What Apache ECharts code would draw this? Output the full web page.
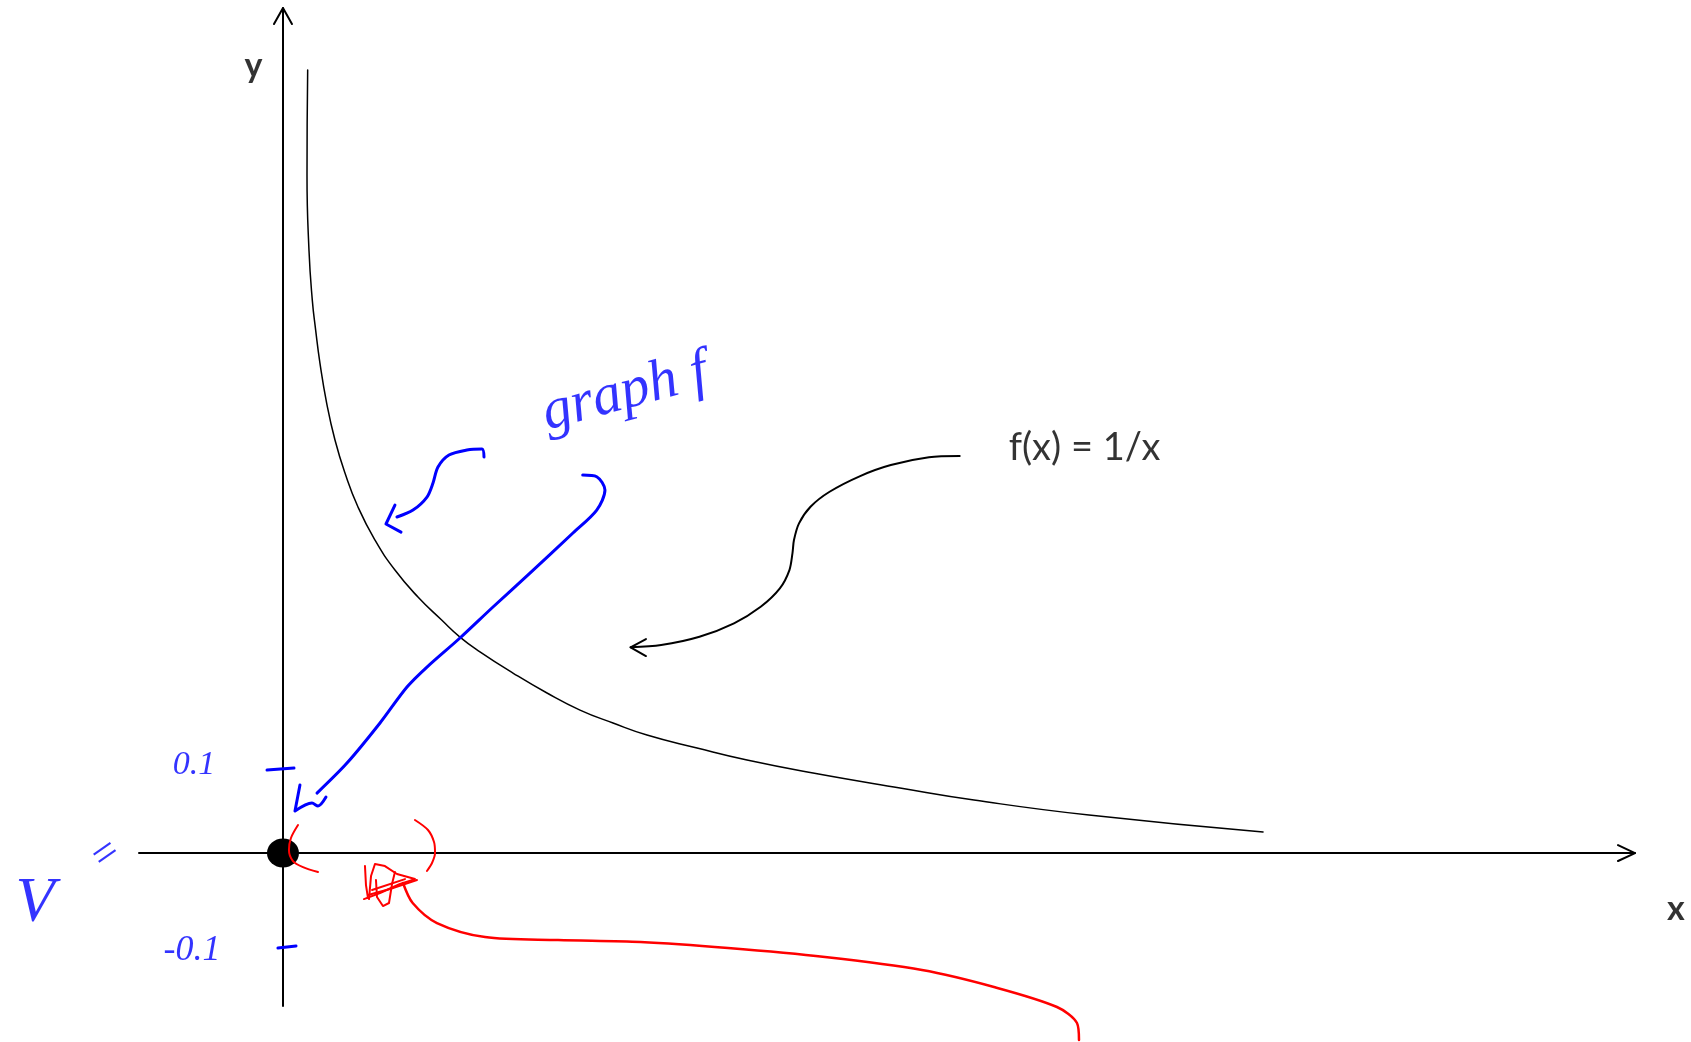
<!DOCTYPE html>
<html>
<head>
<meta charset="utf-8">
<title>f(x) = 1/x</title>
<script src="https://cdn.jsdelivr.net/npm/echarts@6/dist/echarts.min.js"></script>
<style>
    html, body { margin: 0; padding: 0; background: #fff; }
    #chart { width: 1691px; height: 1042px; }
</style>
</head>
<body>
<div id="chart"></div>
<script>
// units: the blue "0.1" tick sits at y = 0.1, same scale on both axes

// axis extents
const xRange = [-0.1714, 1.6095]
const yRange = [-0.1821, 1.006]

// f(x) = 1/x
const curve = [
    [0.0294, 0.9321], [0.0286, 0.8071], [0.031, 0.7167], [0.0349, 0.6583], [0.0389, 0.6226],
    [0.044, 0.5833], [0.052, 0.5357], [0.0619, 0.4917], [0.0738, 0.4524], [0.0893, 0.4119],
    [0.1095, 0.3726], [0.1333, 0.3369], [0.1607, 0.3048], [0.1889, 0.2774], [0.2107, 0.2571],
    [0.2345, 0.2396], [0.2738, 0.2143], [0.3143, 0.1905], [0.3536, 0.1702], [0.3929, 0.1548],
    [0.4333, 0.1405], [0.4929, 0.125], [0.5524, 0.1107], [0.631, 0.0952], [0.7345, 0.0774],
    [0.8226, 0.0631], [0.9595, 0.0452], [1.1667, 0.025],
]

// arrow heads of the axes
const xArrow = [[1.5893, 0.0095], [1.6095, 0], [1.5893, -0.0095]]
const yArrow = [[-0.0107, 0.9869], [0, 1.006], [0.0107, 0.9869]]

// black pointer from the f(x) label
const pointer = [
    [0.8056, 0.4726], [0.769, 0.4711], [0.7236, 0.4619], [0.6871, 0.4488], [0.6507, 0.4301],
    [0.628, 0.4123], [0.6143, 0.3925], [0.6083, 0.3726], [0.6065, 0.3568], [0.6029, 0.3369],
    [0.5915, 0.3151], [0.5687, 0.2932], [0.5369, 0.2735], [0.4958, 0.2575], [0.4502, 0.2476],
    [0.4138, 0.2449],
]
const pointerHead = [[0.4321, 0.2548], [0.4138, 0.2449], [0.4321, 0.2345]]

// blue ink
const hook = [
    [0.2393, 0.4714], [0.2369, 0.481], [0.219, 0.4798], [0.1976, 0.4738], [0.1845, 0.4595],
    [0.1786, 0.4405], [0.1714, 0.4238], [0.1548, 0.4083], [0.1357, 0.4],
]
const hookHead = [[0.1333, 0.4143], [0.1226, 0.3917], [0.1405, 0.3821]]
const longArrow = [
    [0.3568, 0.45], [0.3735, 0.448], [0.3833, 0.4321], [0.3735, 0.4083], [0.3452, 0.381],
    [0.294, 0.3333], [0.25, 0.2929], [0.2107, 0.256], [0.1714, 0.2214], [0.1476, 0.1976],
    [0.1155, 0.1548], [0.0762, 0.1071], [0.0405, 0.0714],
]
const longHead = [[0.0202, 0.081], [0.0143, 0.05], [0.0345, 0.0595], [0.0417, 0.056], [0.0512, 0.0667]]
const tickUp = [[-0.019, 0.0988], [0.0131, 0.1012]]
const tickDown = [[-0.006, -0.1131], [0.0155, -0.1107]]

// red ink
const leftParen = [[0.0179, 0.0333], [0.0095, 0.0179], [0.0071, 0.0036], [0.0119, -0.0095], [0.0238, -0.0167], [0.0417, -0.0226]]
const rightParen = [[0.1571, 0.0393], [0.1726, 0.0274], [0.1798, 0.0131], [0.181, 0], [0.1774, -0.0119], [0.1714, -0.0214]]
const redTail = [
    [0.1429, -0.0357], [0.1544, -0.0595], [0.1833, -0.0833], [0.2405, -0.1], [0.3274, -0.1036],
    [0.4256, -0.106], [0.5298, -0.1131], [0.6452, -0.1238], [0.7607, -0.1393], [0.8464, -0.1595],
    [0.9214, -0.1833], [0.9452, -0.2024], [0.9476, -0.2226],
]
const scribble = [
    [[0.0976, -0.0155], [0.0988, -0.0381], [0.1012, -0.0536]],
    [[0.1024, -0.0548], [0.1048, -0.0274], [0.1095, -0.0131], [0.1214, -0.0155], [0.1357, -0.025],
        [0.1571, -0.031], [0.1393, -0.0369], [0.1155, -0.0476], [0.0964, -0.0548]],
    [[0.1107, -0.0321], [0.1119, -0.0524], [0.119, -0.0631], [0.1262, -0.0595], [0.1298, -0.0369], [0.1333, -0.0226]],
    [[0.1012, -0.05], [0.1274, -0.0429], [0.1595, -0.0321]],
    [[0.106, -0.044], [0.1452, -0.031]],
]

// text positions
const origin = [0, 0]
const yLabelPos = [-0.0351, 0.9375]
const xLabelPos = [1.6583, -0.067]
const fxLabelPos = [0.9542, 0.4826]
const graphPos = [0.4071, 0.5476]
const upLabelPos = [-0.106, 0.1048]
const downLabelPos = [-0.1083, -0.1155]
const eqPos = [-0.2107, -0.0024]
const vPos = [-0.2952, -0.0607]

const BLUE = '#0000ff'
const RED = '#ff0000'

// 一条笔画
function stroke(pts, color, width, smooth) {
    return {
        type: 'line',
        data: pts,
        symbol: 'none',
        clip: false,
        silent: true,
        smooth: smooth || false,
        lineStyle: { color: color, width: width, cap: 'round', join: 'round' },
    }
}

// 一段文字
function note(pos, text, style) {
    return {
        type: 'scatter',
        data: [pos],
        symbolSize: 1,
        clip: false,
        silent: true,
        itemStyle: { color: 'transparent' },
        label: Object.assign({ show: true, position: 'inside', formatter: text }, style),
    }
}

const hand = { color: BLUE, fontFamily: 'Liberation Serif', fontStyle: 'italic' }

const series = [
    stroke(curve, '#000', 1.5, 0.5),
    stroke(xArrow, '#000', 2),
    stroke(yArrow, '#000', 2),
    stroke(pointer, '#000', 2, 0.3),
    stroke(pointerHead, '#000', 2),
    {
        type: 'scatter',
        data: [origin],
        symbolSize: [32, 29],
        silent: true,
        itemStyle: { color: '#000', opacity: 1 },
    },
    stroke(hook, BLUE, 3, 0.3),
    stroke(hookHead, BLUE, 3),
    stroke(longArrow, BLUE, 3, 0.3),
    stroke(longHead, BLUE, 3, 0.3),
    stroke(tickUp, BLUE, 3),
    stroke(tickDown, BLUE, 3),
    stroke(leftParen, RED, 2, 0.3),
    stroke(rightParen, RED, 2, 0.3),
    stroke(redTail, RED, 2.5, 0.3),
    note(yLabelPos, 'y', { color: '#000', fontFamily: 'Lato', fontWeight: 'bold', fontSize: 34 }),
    note(xLabelPos, 'x', { color: '#000', fontFamily: 'Lato', fontWeight: 'bold', fontSize: 34 }),
    note(fxLabelPos, 'f(x) = 1/x', { color: '#000', fontFamily: 'Lato', fontSize: 38 }),
    note(graphPos, 'graph f', Object.assign({ fontSize: 58, rotate: 15 }, hand)),
    note(upLabelPos, '0.1', Object.assign({ fontSize: 34 }, hand)),
    note(downLabelPos, '-0.1', Object.assign({ fontSize: 36 }, hand)),
    note(eqPos, '=', Object.assign({ fontSize: 44, rotate: 35 }, hand)),
    note(vPos, 'V', Object.assign({ fontSize: 64 }, hand)),
]
scribble.forEach(function (s) {
    series.push(stroke(s, RED, 2))
})

const chart = echarts.init(document.getElementById('chart'))
chart.setOption({
    animation: false,
    backgroundColor: '#fff',
    grid: { left: 139, right: 56, top: 8, bottom: 36 },
    xAxis: {
        type: 'value',
        min: xRange[0],
        max: xRange[1],
        axisLine: { onZero: true, lineStyle: { color: '#000', width: 2 } },
        axisTick: { show: false },
        axisLabel: { show: false },
        splitLine: { show: false },
    },
    yAxis: {
        type: 'value',
        min: yRange[0],
        max: yRange[1],
        axisLine: { onZero: true, lineStyle: { color: '#000', width: 2 } },
        axisTick: { show: false },
        axisLabel: { show: false },
        splitLine: { show: false },
    },
    series: series,
})
</script>
</body>
</html>
